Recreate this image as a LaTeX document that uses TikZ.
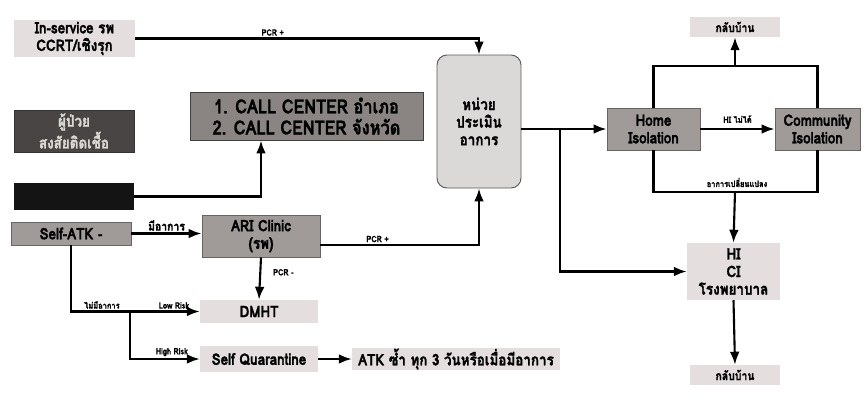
\documentclass[tikz,border=0pt]{standalone}
\usepackage{fontspec}
\setmainfont[Script=Thai,FakeStretch=0.85,BoldFeatures={FakeBold=1.5}]{Loma}
\usepackage{tikz}
\usetikzlibrary{arrows.meta,positioning,calc}
\definecolor{lightbox}{RGB}{229,222,222}
\definecolor{midbox}{RGB}{160,155,153}
\definecolor{midline}{RGB}{105,100,100}
\definecolor{darkbox}{RGB}{72,69,68}
\definecolor{darktext}{RGB}{218,216,210}
\definecolor{callbox}{RGB}{138,133,130}
\definecolor{assessbox}{RGB}{219,217,216}
\begin{document}
\begin{tikzpicture}[x=0.03cm,y=-0.03cm,>=Latex,
    box/.style={inner sep=0pt,align=center,font=\fontsize{13.5}{15}\selectfont\bfseries},
    lightb/.style={box,fill=lightbox},
    midb/.style={box,fill=midbox,draw=midline,line width=0.8pt},
    lbl/.style={font=\fontsize{7.5}{8}\selectfont\bfseries,inner sep=1.5pt},
    conn/.style={line width=1.8pt}]
  \useasboundingbox (0,0) rectangle (866,406);
  % left column
  \node[lightb,minimum width=3.63cm,minimum height=1.11cm] (inserv) at (74.5,38.5) {In-service รพ\\CCRT/เชิงรุก};
  \node[box,fill=darkbox,draw=black!80,text=darktext,minimum width=3.6cm,minimum height=1.26cm] (suspect) at (74,131) {ผู้ป่วย\\สงสัยติดเชื้อ};
  \node[box,fill=black!92,minimum width=3.6cm,minimum height=0.81cm] (walkin) at (74,196.5) {};
  \node[midb,minimum width=3.6cm,minimum height=0.69cm] (selfatk) at (71,233.5) {Self-ATK -};
  % middle
  \node[box,fill=callbox,draw=black!75,line width=0.8pt,minimum width=6.99cm,minimum height=1.44cm,font=\fontsize{16.5}{18}\selectfont\bfseries] (callc) at (306.5,116) {1. CALL CENTER อำเภอ\\2. CALL CENTER จังหวัด};
  \node[box,fill=assessbox,draw=black!65,line width=0.8pt,rounded corners=0.3cm,minimum width=2.52cm,minimum height=3.99cm] (assess) at (479,121.5) {หน่วย\\ประเมิน\\อาการ};
  \node[midb,minimum width=3.54cm,minimum height=1.26cm] (ari) at (261,236) {ARI Clinic\\(รพ)};
  \node[lightb,minimum width=3.54cm,minimum height=0.69cm] (dmht) at (259,311.5) {DMHT};
  \node[lightb,minimum width=3.54cm,minimum height=0.78cm] (selfq) at (259,359) {Self Quarantine};
  \node[lightb,minimum width=6.24cm,minimum height=0.66cm] (atk) at (456,359) {ATK ซ้ำ ทุก 3 วันหรือเมื่อมีอาการ};
  % right
  \node[midb,minimum width=2.79cm,minimum height=1.26cm] (home) at (653.5,129) {Home\\Isolation};
  \node[midb,minimum width=2.55cm,minimum height=1.26cm] (comm) at (817.5,129) {Community\\Isolation};
  \node[lightb,minimum width=2.7cm,minimum height=0.6cm,font=\fontsize{10.5}{11}\selectfont\bfseries] (hometop) at (735,27) {กลับบ้าน};
  \node[lightb,minimum width=2.79cm,minimum height=1.71cm] (hosp) at (733.5,271.5) {HI\\CI\\โรงพยาบาล};
  \node[lightb,minimum width=2.7cm,minimum height=0.6cm,font=\fontsize{10.5}{11}\selectfont\bfseries] (homebot) at (735,375) {กลับบ้าน};
  % connectors
  \draw[conn,->] (inserv.east) -| (assess.north) node[lbl,above,pos=0.2] {PCR +};
  \draw[conn,->] (walkin.east) -| (ari.north |- callc.south);
  \draw[conn,->] (selfatk.east) -- (selfatk.east -| ari.west) node[lbl,above,midway,font=\fontsize{10.5}{11}\selectfont\bfseries] {มีอาการ};
  \draw[conn,->] ([yshift=-0.27cm]ari.east) -| (assess.south) node[lbl,above,pos=0.18] {PCR +};
  \draw[conn,->] (ari.south) -- (dmht.north) node[lbl,right,pos=0.35,xshift=0.3cm] {PCR -};
  \draw[conn,->] (selfatk.south) |- (dmht.west) node[lbl,above,pos=0.62] {ไม่มีอาการ} node[lbl,above,pos=0.9] {Low Risk};
  \coordinate (lowbr) at (130,311.5);
  \draw[conn,->] (lowbr) |- (selfq.west) node[lbl,above,pos=0.8] {High Risk};
  \draw[conn,->] (selfq.east) -- (atk.west);
  \draw[conn,->] (assess.east |- home.west) -- (home.west);
  \coordinate (split) at (560,129);
  \draw[conn,->] (split) |- (hosp.west);
  \draw[conn,->] (home.east) -- (comm.west) node[lbl,above,midway,yshift=0.1cm] {HI ไม่ได้};
  \coordinate (rettop) at (735,66);
  \draw[conn] (home.north) |- (rettop) -| (comm.north);
  \draw[conn,->] (rettop) -- (hometop.south);
  \coordinate (change) at (735,192);
  \draw[conn] (home.south) |- (change) -| (comm.south);
  \draw[conn,->] (change) -- (hosp.north);
  \node[lbl,above] (changelbl) at (737,189) {อาการเปลี่ยนแปลง};
  \draw[conn,->] (hosp.south) -- (homebot.north);
\end{tikzpicture}
\end{document}
